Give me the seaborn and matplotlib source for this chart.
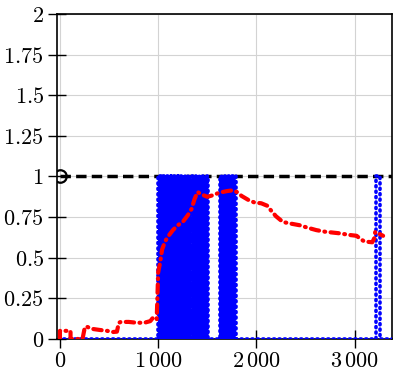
import matplotlib
matplotlib.use("Agg")
import matplotlib.pyplot as plt
import seaborn as sns
import numpy as np

# ---- data ----
ref_x = [0, 3400]
ref_y = [1, 1]

blue_start_x = [0, 0]
blue_start_y = [0.045, 0]
blue_edges = [1000, 1009, 1018, 1027, 1036, 1045, 1054, 1063, 1072, 1081,
              1090, 1099, 1108, 1117, 1126, 1135, 1144, 1153, 1162, 1171,
              1180, 1189, 1198, 1207, 1216, 1225, 1234, 1243, 1252, 1261,
              1272, 1283, 1294, 1305, 1316, 1327, 1340, 1351, 1362, 1373,
              1384, 1395, 1406, 1417, 1428, 1439, 1450, 1461, 1472, 1484,
              1496, 1512,
              1630, 1640, 1650, 1660, 1670, 1680, 1690, 1700, 1710, 1720,
              1730, 1740, 1750, 1762, 1776, 1790,
              3215, 3255]
blue_end_x = 3380

red_x = [0, 0, 108, 108, 150, 230, 254, 275, 330, 400, 480, 540, 580, 600,
         620, 700, 780, 860, 920, 946, 966, 985, 992, 1000, 1020, 1040, 1070,
         1100, 1150, 1200, 1250, 1300, 1340, 1370, 1400, 1440, 1500, 1560,
         1620, 1700, 1760, 1800, 1850, 1920, 1980, 2050, 2110, 2150, 2200,
         2270, 2350, 2440, 2520, 2610, 2700, 2850, 2950, 3020, 3060, 3100,
         3180, 3200, 3210, 3240, 3290]
red_y = [0, 0.05, 0.05, 0, 0, 0, 0.074, 0.075, 0.062, 0.056, 0.05, 0.043,
         0.045, 0.10, 0.105, 0.105, 0.10, 0.10, 0.11, 0.13, 0.12, 0.12, 0.25,
         0.41, 0.47, 0.55, 0.60, 0.63, 0.67, 0.70, 0.72, 0.76, 0.80, 0.86,
         0.905, 0.89, 0.875, 0.885, 0.90, 0.91, 0.915, 0.905, 0.88, 0.855,
         0.84, 0.835, 0.82, 0.79, 0.755, 0.72, 0.71, 0.70, 0.685, 0.67, 0.66,
         0.65, 0.64, 0.635, 0.615, 0.60, 0.595, 0.62, 0.66, 0.65, 0.635]

x_ticks = [0, 1000, 2000, 3000]
x_tick_labels = [r"$0$", r"$1\,000$", r"$2\,000$", r"$3\,000$"]
y_ticks = [0, 0.25, 0.5, 0.75, 1, 1.25, 1.5, 1.75, 2]
y_tick_labels = [r"$0$", r"$0.25$", r"$0.5$", r"$0.75$", r"$1$",
                 r"$1.25$", r"$1.5$", r"$1.75$", r"$2$"]

# build blue step signal from edges
bx = list(blue_start_x)
by = list(blue_start_y)
state = 0
for e in blue_edges:
    bx.append(e); by.append(state)
    state = 1 - state
    bx.append(e); by.append(state)
bx.append(blue_end_x); by.append(state)

sns.set_theme(style="white")
plt.rcParams["mathtext.fontset"] = "cm"
plt.rcParams["font.family"] = ["DejaVu Sans"]
plt.rcParams["path.simplify"] = False

fig = plt.figure(figsize=(4.07, 3.73), dpi=100)
ax = fig.add_axes([0.140, 0.0912, 0.823, 0.8713])

sns.lineplot(x=ref_x, y=ref_y, ax=ax, sort=False, estimator=None,
             color="black", linewidth=2.5, linestyle=(0, (3, 1.5)),
             marker="o", markevery=[0], markersize=9,
             markerfacecolor="none", markeredgecolor="black",
             markeredgewidth=1.6, zorder=2)
sns.lineplot(x=bx, y=by, ax=ax, sort=False, estimator=None,
             color="blue", linewidth=2.6, linestyle=(0, (0.3, 1.2)),
             dash_capstyle="round", zorder=3)
sns.lineplot(x=red_x, y=red_y, ax=ax, sort=False, estimator=None,
             color="red", linewidth=3.0, linestyle=(0, (2, 1.3, 0.2, 1.3)),
             dash_capstyle="round", zorder=4)

ax.set_xlim(-30, 3380)
ax.set_ylim(0, 2)
ax.set_xticks(x_ticks)
ax.set_xticklabels(x_tick_labels)
ax.set_yticks(y_ticks)
ax.set_yticklabels(y_tick_labels)
ax.tick_params(axis="both", direction="inout", length=13, width=1.0,
               colors="black", labelsize=16, pad=3,
               left=True, bottom=True, top=False, right=False)
ax.tick_params(axis="x", pad=2)
ax.grid(True, color="#d3d3d3", linewidth=0.8)
ax.set_axisbelow(True)
for s in ax.spines.values():
    s.set_color("black")
    s.set_linewidth(1.2)
    s.set_visible(True)
ax.set_xlabel("")
ax.set_ylabel("")

fig.savefig("out.png", dpi=100)
